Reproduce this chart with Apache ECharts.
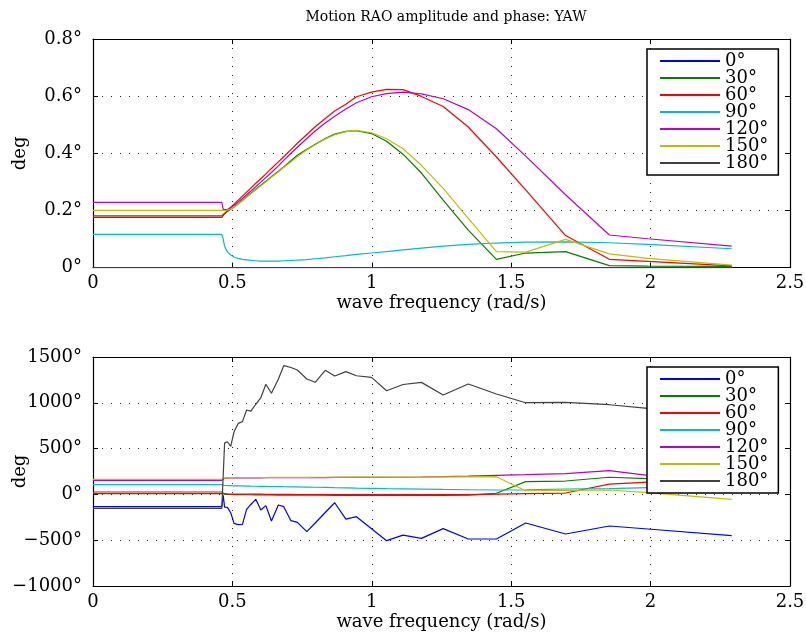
<!DOCTYPE html>
<html>
<head>
<meta charset="utf-8">
<script src="https://cdn.jsdelivr.net/npm/echarts@6.0.0/dist/echarts.min.js"></script>
<style>
  html, body { margin: 0; padding: 0; background: #fff; }
  #chart { width: 806px; height: 642px; }
</style>
</head>
<body>
<div id="chart"></div>
<script>
// Wave frequencies (rad/s) shared by every heading
const freq = [0, 0.462, 0.467, 0.472, 0.482, 0.494, 0.506, 0.521, 0.536, 0.551, 0.566, 0.584, 0.602, 0.620, 0.640, 0.665, 0.684, 0.710, 0.733, 0.767, 0.797, 0.833, 0.867, 0.907, 0.945, 0.999, 1.053, 1.112, 1.178, 1.256, 1.346, 1.447, 1.552, 1.695, 1.852, 1.990, 2.291];

const headings = ['0°', '30°', '60°', '90°', '120°', '150°', '180°'];

// Yaw RAO amplitude (deg per unit wave amplitude)
const amp0   = [0, 0, 0, 0, 0, 0, 0, 0, 0, 0, 0, 0, 0, 0, 0, 0, 0, 0, 0, 0, 0, 0, 0, 0, 0, 0, 0, 0, 0, 0, 0, 0, 0, 0, 0, 0, 0];
const amp30  = [0.176, 0.176, 0.181, 0.188, 0.196, 0.204, 0.212, 0.224, 0.236, 0.248, 0.260, 0.274, 0.288, 0.302, 0.318, 0.337, 0.352, 0.374, 0.393, 0.414, 0.432, 0.452, 0.467, 0.477, 0.479, 0.469, 0.442, 0.397, 0.331, 0.236, 0.131, 0.029, 0.051, 0.056, 0.007, 0.005, 0.004];
const amp60  = [0.181, 0.181, 0.185, 0.190, 0.200, 0.211, 0.222, 0.236, 0.250, 0.264, 0.278, 0.295, 0.311, 0.328, 0.347, 0.370, 0.388, 0.413, 0.435, 0.466, 0.493, 0.522, 0.548, 0.572, 0.598, 0.614, 0.624, 0.623, 0.599, 0.564, 0.492, 0.387, 0.272, 0.112, 0.029, 0.022, 0.006];
const amp90  = [0.116, 0.116, 0.100, 0.075, 0.055, 0.044, 0.037, 0.032, 0.029, 0.027, 0.025, 0.024, 0.023, 0.023, 0.023, 0.023, 0.024, 0.025, 0.026, 0.028, 0.031, 0.034, 0.038, 0.042, 0.046, 0.051, 0.056, 0.062, 0.068, 0.075, 0.081, 0.086, 0.089, 0.090, 0.087, 0.081, 0.066];
const amp120 = [0.228, 0.228, 0.204, 0.199, 0.203, 0.210, 0.218, 0.230, 0.242, 0.255, 0.268, 0.283, 0.299, 0.315, 0.333, 0.356, 0.375, 0.400, 0.421, 0.452, 0.478, 0.506, 0.530, 0.555, 0.577, 0.598, 0.609, 0.614, 0.608, 0.591, 0.553, 0.486, 0.390, 0.255, 0.114, 0.101, 0.075];
const amp150 = [0.200, 0.200, 0.199, 0.199, 0.201, 0.205, 0.211, 0.222, 0.234, 0.246, 0.258, 0.272, 0.286, 0.300, 0.316, 0.335, 0.350, 0.370, 0.388, 0.412, 0.430, 0.450, 0.465, 0.476, 0.480, 0.472, 0.451, 0.416, 0.358, 0.277, 0.172, 0.056, 0.054, 0.099, 0.048, 0.032, 0.009];
const amp180 = [0, 0, 0, 0, 0, 0, 0, 0, 0, 0, 0, 0, 0, 0, 0, 0, 0, 0, 0, 0, 0, 0, 0, 0, 0, 0, 0, 0, 0, 0, 0, 0, 0, 0, 0, 0, 0];

// Yaw RAO phase (deg)
const ph0   = [-134, -134, -10, -140, -141, -200, -316, -330, -327, -163, -110, -54, -170, -123, -290, -116, -134, -287, -305, -407, -312, -198, -91, -269, -243, -374, -505, -445, -480, -374, -487, -487, -312, -432, -345, -378, -451];
const ph30  = [8, 8, 8, 2, 0, -1, -2, -3, -3, -4, -4, -5, -5, -6, -6, -7, -7, -8, -8, -9, -9, -9, -10, -10, -10, -10, -10, -10, -10, -10, -8, 12, 139, 146, 187, 172, 170];
const ph60  = [26, 26, 26, 8, 5, 4, 4, 3, 3, 3, 2, 2, 2, 1, 1, 0, 0, 0, -1, -1, -1, -2, -2, -2, -2, -3, -3, -3, -3, -3, -3, 4, 8, 15, 113, 135, 150];
const ph90  = [106, 106, 106, 97, 96, 95, 94, 93, 92, 91, 90, 89, 88, 87, 86, 85, 84, 83, 82, 80, 78, 76, 74, 72, 69, 66, 62, 60, 57, 54, 51, 48, 50, 59, 62, 73, 80];
const ph120 = [154, 154, 154, 176, 178, 179, 179, 180, 180, 180, 181, 181, 181, 182, 182, 182, 183, 183, 183, 184, 184, 184, 185, 185, 185, 186, 186, 187, 190, 195, 200, 208, 215, 226, 259, 208, 190];
const ph150 = [165, 165, 165, 178, 180, 181, 182, 182, 183, 183, 183, 184, 184, 184, 185, 185, 185, 186, 186, 186, 187, 187, 187, 188, 188, 188, 189, 189, 190, 191, 192, 193, 40, 44, 48, 19, -54];
const ph180 = [-152, -152, -152, 560, 575, 525, 684, 776, 794, 921, 910, 984, 1056, 1202, 1104, 1260, 1405, 1385, 1358, 1260, 1224, 1355, 1293, 1340, 1295, 1278, 1132, 1200, 1223, 1085, 1205, 1096, 1001, 1005, 979, 940, 890];

const xTicks = { min: 0, max: 2.5, interval: 0.5 };
const ampTicks = { min: 0, max: 0.8, interval: 0.2 };
const phaseTicks = { min: -1000, max: 1500, interval: 500 };

const amplitudes = [amp0, amp30, amp60, amp90, amp120, amp150, amp180];
const phases = [ph0, ph30, ph60, ph90, ph120, ph150, ph180];

const COLORS = ['#0000ff', '#008000', '#ff0000', '#00bfbf', '#bf00bf', '#bfbf00', '#404040'];
const FONT = 'DejaVu Serif';
const BLACK = '#000';

function degLabel(v) {
  const n = parseFloat(Number(v).toFixed(3));
  return (n < 0 ? '\u2212' + Math.abs(n) : String(n)) + '°';
}

function bottomAxis(grid) {
  return {
    gridIndex: grid, type: 'value', position: 'bottom',
    min: xTicks.min, max: xTicks.max, interval: xTicks.interval,
    name: 'wave frequency (rad/s)', nameLocation: 'middle', nameGap: 27,
    nameMoveOverlap: false,
    nameTextStyle: { fontFamily: FONT, fontSize: 18, color: BLACK },
    axisLine: { show: true, onZero: false, lineStyle: { color: BLACK, width: 1.2 } },
    axisTick: { show: true, inside: true, length: 5, lineStyle: { color: BLACK } },
    axisLabel: { fontFamily: FONT, fontSize: 18, color: BLACK, margin: 7,
                 formatter: v => String(parseFloat(Number(v).toFixed(2))) },
    splitLine: { show: true, lineStyle: { color: '#222', width: 1, type: [1, 8] } }
  };
}
function topAxis(grid) {
  return {
    gridIndex: grid, type: 'value', position: 'top',
    min: xTicks.min, max: xTicks.max, interval: xTicks.interval,
    axisLine: { show: true, onZero: false, lineStyle: { color: BLACK, width: 1.2 } },
    axisTick: { show: true, inside: true, length: 5, lineStyle: { color: BLACK } },
    axisLabel: { show: false }, splitLine: { show: false }
  };
}
function leftAxis(grid, ticks) {
  return {
    gridIndex: grid, type: 'value', position: 'left',
    min: ticks.min, max: ticks.max, interval: ticks.interval,
    name: 'deg', nameLocation: 'middle', nameGap: 64,
    nameMoveOverlap: false,
    nameTextStyle: { fontFamily: FONT, fontSize: 18, color: BLACK },
    axisLine: { show: true, onZero: false, lineStyle: { color: BLACK, width: 1.2 } },
    axisTick: { show: true, inside: true, length: 5, lineStyle: { color: BLACK } },
    axisLabel: { fontFamily: FONT, fontSize: 18, color: BLACK, margin: 11, formatter: degLabel },
    splitLine: { show: true, lineStyle: { color: '#222', width: 1, type: [1, 8] } }
  };
}
function rightAxis(grid, ticks) {
  return {
    gridIndex: grid, type: 'value', position: 'right',
    min: ticks.min, max: ticks.max, interval: ticks.interval,
    axisLine: { show: true, onZero: false, lineStyle: { color: BLACK, width: 1.2 } },
    axisTick: { show: true, inside: true, length: 5, lineStyle: { color: BLACK } },
    axisLabel: { show: false }, splitLine: { show: false }
  };
}
function legendBox(top) {
  return {
    data: headings, orient: 'vertical', left: 647, top: top,
    itemWidth: 60, itemHeight: 2, itemGap: -1,
    padding: [3, 10, 3, 12],
    borderColor: BLACK, borderWidth: 1.5, backgroundColor: '#fff',
    selectedMode: false,
    itemStyle: { opacity: 0 },
    textStyle: { fontFamily: FONT, fontSize: 18, color: BLACK }
  };
}
function lineSeries(name, values, color, xIdx, yIdx) {
  return {
    name: name, type: 'line', xAxisIndex: xIdx, yAxisIndex: yIdx,
    data: freq.map((f, i) => [f, values[i]]),
    symbol: 'none', animation: false,
    lineStyle: { color: color, width: 1.2 }, itemStyle: { color: color }
  };
}

const series = [];
headings.forEach((h, k) => series.push(lineSeries(h, amplitudes[k], COLORS[k], 0, 0)));
headings.forEach((h, k) => series.push(lineSeries(h, phases[k], COLORS[k], 2, 2)));

const chart = echarts.init(document.getElementById('chart'), null, { renderer: 'canvas' });
chart.setOption({
  backgroundColor: '#fff',
  animation: false,
  color: COLORS,
  title: {
    text: 'Motion RAO amplitude and phase: YAW',
    left: 441, top: 5, textAlign: 'center',
    textStyle: { fontFamily: FONT, fontSize: 14, fontWeight: 'normal', color: BLACK }
  },
  grid: [
    { left: 93, right: 16, top: 39, height: 228.6, containLabel: false, outerBoundsMode: 'none' },
    { left: 93, right: 16, top: 357, height: 229, containLabel: false, outerBoundsMode: 'none' }
  ],
  xAxis: [bottomAxis(0), topAxis(0), bottomAxis(1), topAxis(1)],
  yAxis: [leftAxis(0, ampTicks), rightAxis(0, ampTicks), leftAxis(1, phaseTicks), rightAxis(1, phaseTicks)],
  legend: [legendBox(49), legendBox(367)],
  series: series
});
</script>
</body>
</html>
